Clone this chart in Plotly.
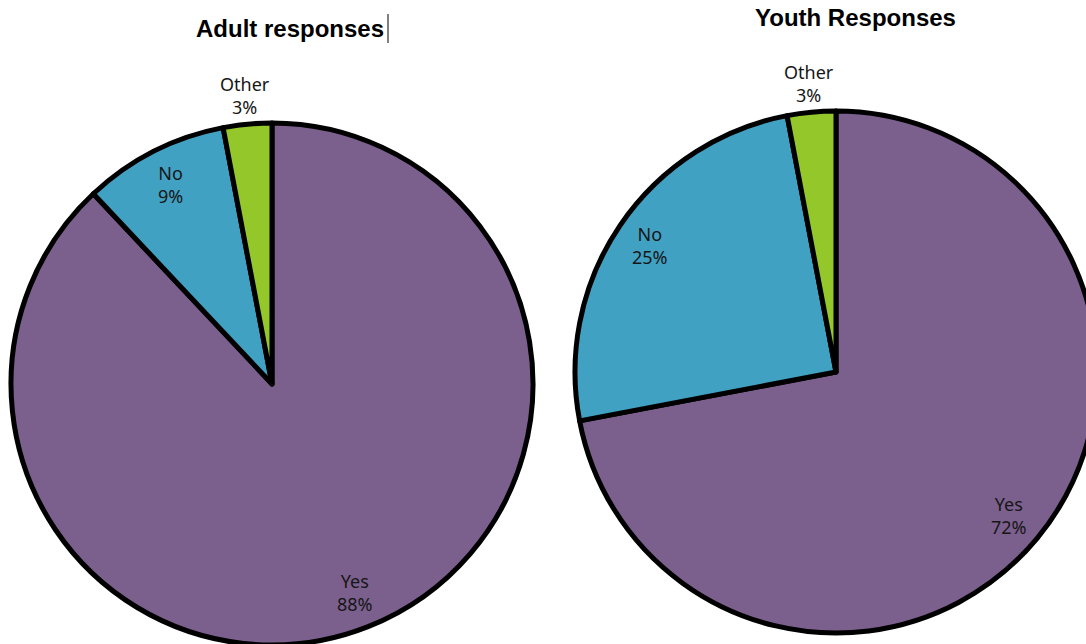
import math
import plotly.graph_objects as go

# Survey answers
categories = ["Yes", "No", "Other"]
adult_values = [88, 9, 3]
youth_values = [72, 25, 3]
titles = ["Adult responses", "Youth Responses"]

colors = ["#7B5F8D", "#41A1C3", "#93C72A"]

W, H = 1100, 650

# pie geometry in pixels (center x, center y from top, radius)
pies = [
    dict(values=adult_values, cx=272, cy=384, r=261, title=titles[0], tx=290, ty=29),
    dict(values=youth_values, cx=836, cy=372, r=261, title=titles[1], tx=855, ty=17),
]

fig = go.Figure()
annotations = []

for p in pies:
    dom_x = [(p["cx"] - p["r"]) / W, (p["cx"] + p["r"]) / W]
    dom_y = [(H - (p["cy"] + p["r"])) / H, (H - (p["cy"] - p["r"])) / H]
    fig.add_trace(go.Pie(
        labels=categories,
        values=p["values"],
        sort=False,
        direction="clockwise",
        rotation=0,
        marker=dict(colors=colors, line=dict(color="#000000", width=5)),
        textinfo="none",
        showlegend=False,
        domain=dict(x=dom_x, y=dom_y),
    ))

    # data labels at the slice mid-angle
    total = sum(p["values"])
    start = 0.0
    for cat, v in zip(categories, p["values"]):
        frac = v / total
        mid = (start + frac / 2) * 2 * math.pi
        start += frac
        k = 1.11 if frac < 0.05 else 0.86
        lx = p["cx"] + k * p["r"] * math.sin(mid)
        ly = p["cy"] - k * p["r"] * math.cos(mid)
        annotations.append(dict(
            x=lx / W, y=(H - ly) / H, xref="paper", yref="paper",
            text=f"{cat}<br>{round(frac * 100)}%",
            showarrow=False, xanchor="center", yanchor="middle",
            font=dict(family="Noto Sans", size=18, color="#161616"),
        ))

    annotations.append(dict(
        x=p["tx"] / W, y=(H - p["ty"]) / H, xref="paper", yref="paper",
        text=f"<b>{p['title']}</b>", showarrow=False,
        xanchor="center", yanchor="middle",
        font=dict(family="Liberation Sans, Arial", size=24, color="#000000"),
    ))

fig.update_layout(
    width=W, height=H, autosize=False,
    margin=dict(l=0, r=0, t=0, b=0),
    paper_bgcolor="#FFFFFF", plot_bgcolor="#FFFFFF",
    annotations=annotations,
    shapes=[dict(type="line", xref="paper", yref="paper",
                 x0=388 / W, x1=388 / W, y0=(H - 43) / H, y1=(H - 14) / H,
                 line=dict(color="#000000", width=1))],
)

fig.write_html(
    "out.html",
    post_script="document.body.style.margin='0';document.body.style.overflow='hidden';",
)
